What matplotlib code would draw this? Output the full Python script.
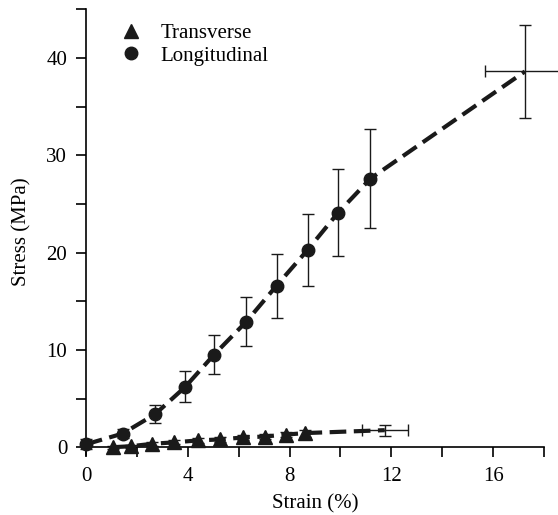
import matplotlib
matplotlib.use("Agg")
import matplotlib.pyplot as plt
import numpy as np

plt.rcParams['font.family'] = ['Liberation Serif', 'DejaVu Serif']

# Longitudinal data
long_x = [0.0, 1.44, 2.72, 3.9, 5.03, 6.3, 7.49, 8.72, 9.91, 11.18, 17.25]
long_y = [0.3, 1.4, 3.4, 6.2, 9.5, 12.9, 16.6, 20.3, 24.1, 27.6, 38.6]
long_yerr = [0.5, 0.5, 0.9, 1.6, 2.0, 2.55, 3.3, 3.7, 4.5, 5.1, 4.8]
long_xerr = [0, 0, 0, 0, 0, 0, 0, 0, 0, 0, 1.55]

# Transverse data
trans_x = [1.05, 1.76, 2.6, 3.46, 4.42, 5.27, 6.17, 7.02, 7.87, 8.6, 11.74]
trans_y = [0.0, 0.1, 0.35, 0.5, 0.7, 0.8, 1.0, 1.1, 1.3, 1.45, 1.75]
trans_yerr = [0.15, 0.15, 0.2, 0.2, 0.25, 0.25, 0.3, 0.3, 0.3, 0.35, 0.55]
trans_xerr = [0, 0, 0, 0, 0, 0, 0, 0, 0, 0, 0.9]

fig = plt.figure(figsize=(5.58, 5.15), dpi=100)
ax = fig.add_axes([86/558, 1-455/515, (544-86)/558, (455-9.2)/515])

dash = (0, (4, 1.8))
for xs, ys, ye, xe in [(long_x, long_y, long_yerr, long_xerr), (trans_x, trans_y, trans_yerr, trans_xerr)]:
    ax.errorbar(xs, ys, yerr=ye, xerr=xe, fmt='none', ecolor='#1a1a1a',
                elinewidth=1.0, capsize=4, capthick=1.0, clip_on=False, zorder=2)
    ax.plot(xs, ys, color='#1a1a1a', lw=3.0, linestyle=dash, clip_on=False, zorder=3)

ax.plot(trans_x[:-1], trans_y[:-1], '^', color='#1a1a1a', ms=10, ls='none',
        clip_on=False, zorder=4, label='Transverse')
ax.plot(long_x[:-1], long_y[:-1], 'o', color='#1a1a1a', ms=9, ls='none',
        clip_on=False, zorder=4, label='Longitudinal')

ax.set_xlim(0, 18)
ax.set_ylim(-0.8, 45)
ax.spines['top'].set_visible(False)
ax.spines['right'].set_visible(False)
ax.spines['bottom'].set_position(('data', 0))
for s in ['left', 'bottom']:
    ax.spines[s].set_linewidth(1.2)

ax.set_xticks([0, 4, 8, 12, 16])
ax.set_xticks([2, 6, 10, 14, 18], minor=True)
ax.set_yticks([0, 10, 20, 30, 40])
ax.set_yticks([5, 15, 25, 35, 45], minor=True)
ax.tick_params(which='both', direction='out', length=7.5, width=1.2, labelsize=15)
ax.tick_params(axis='x', pad=7)
ax.tick_params(axis='y', pad=6)

ax.set_xlabel('Strain (%)', fontsize=15)
ax.xaxis.set_label_coords(0.5, -0.087)
ax.set_ylabel('Stress (MPa)', fontsize=15)
ax.yaxis.set_label_coords(-0.12, 0.5)

ax.legend(loc='upper left', bbox_to_anchor=(0.03, 1.01), frameon=False,
          fontsize=15, handletextpad=0.8, labelspacing=0.15, handlelength=1.2)

fig.savefig('out.png', dpi=100)
